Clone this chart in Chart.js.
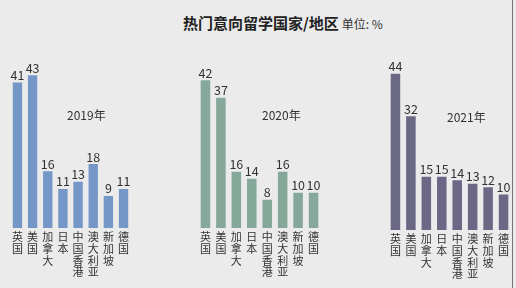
<!DOCTYPE html>
<html>
<head>
<meta charset="utf-8">
<script src="https://cdn.jsdelivr.net/npm/chart.js@4"></script>
<style>
  body { margin: 0; background: #ebebeb; font-family: "Noto Sans CJK SC", sans-serif; }
  #wrap { position: relative; width: 516px; height: 288px; overflow: hidden; }
  .title { position: absolute; left: 183px; top: 12px; font-size: 15px; font-weight: bold; color: #222; white-space: nowrap; }
  .title span { font-size: 12px; font-weight: normal; color: #333; margin-left: 3px; }
  .panel { position: absolute; top: 0; height: 288px; }
  .year { position: absolute; font-size: 12px; color: #333; white-space: nowrap; }
  .edge { position: absolute; left: 512px; top: 0; width: 1px; height: 288px; background: #777; }
</style>
</head>
<body>
<div id="wrap">
  <div class="title">热门意向留学国家/地区<span>单位: %</span></div>
  <canvas id="c2019" class="panel"></canvas>
  <canvas id="c2020" class="panel"></canvas>
  <canvas id="c2021" class="panel"></canvas>
  <div class="year" style="left:67px;top:106px">2019年</div>
  <div class="year" style="left:262px;top:106px">2020年</div>
  <div class="year" style="left:447px;top:108px">2021年</div>
  <div class="edge"></div>
</div>
<script>
const categories = ['英国', '美国', '加拿大', '日本', '中国香港', '澳大利亚', '新加坡', '德国'];
const values2019 = [41, 43, 16, 11, 13, 18, 9, 11];
const values2020 = [42, 37, 16, 14, 8, 16, 10, 10];
const values2021 = [44, 32, 15, 15, 14, 13, 12, 10];

const labels = categories.map(c => c.split(''));

const valueLabels = {
    id: 'valueLabels',
    afterDatasetsDraw(chart) {
        const { ctx } = chart;
        const meta = chart.getDatasetMeta(0);
        ctx.save();
        ctx.font = '12.5px "Noto Sans CJK SC", sans-serif';
        ctx.fillStyle = '#333';
        ctx.textAlign = 'center';
        ctx.textBaseline = 'bottom';
        meta.data.forEach((bar, i) => {
            ctx.fillText(chart.data.datasets[0].data[i], bar.x, bar.y - 1);
        });
        ctx.restore();
    }
};

function panel(id, left, width, data, color, padTop, padBottom) {
    const el = document.getElementById(id);
    el.style.left = left + 'px';
    el.width = width;
    el.height = 288;
    new Chart(el, {
        type: 'bar',
        data: {
            labels,
            datasets: [{ data, backgroundColor: color, barPercentage: 0.95, categoryPercentage: 0.65 }]
        },
        options: {
            responsive: false,
            animation: false,
            layout: { padding: { top: padTop, left: 0, right: 0, bottom: padBottom } },
            plugins: { legend: { display: false }, tooltip: { enabled: false } },
            scales: {
                x: {
                    grid: { display: false, drawTicks: false },
                    border: { display: false },
                    ticks: {
                        color: '#333',
                        padding: 3,
                        maxRotation: 0,
                        autoSkip: false,
                        font: { size: 11, family: '"Noto Sans CJK SC", sans-serif', lineHeight: 1.07 }
                    }
                },
                y: { display: false, min: 0, max: 50 }
            }
        },
        plugins: [valueLabels]
    });
}

panel('c2019', 9, 123, values2019, '#7597c8', 50.5, 7);
panel('c2020', 197, 125, values2020, '#86a89a', 52, 7);
panel('c2021', 387, 125, values2021, '#6b6886', 52.5, 5);
</script>
</body>
</html>
